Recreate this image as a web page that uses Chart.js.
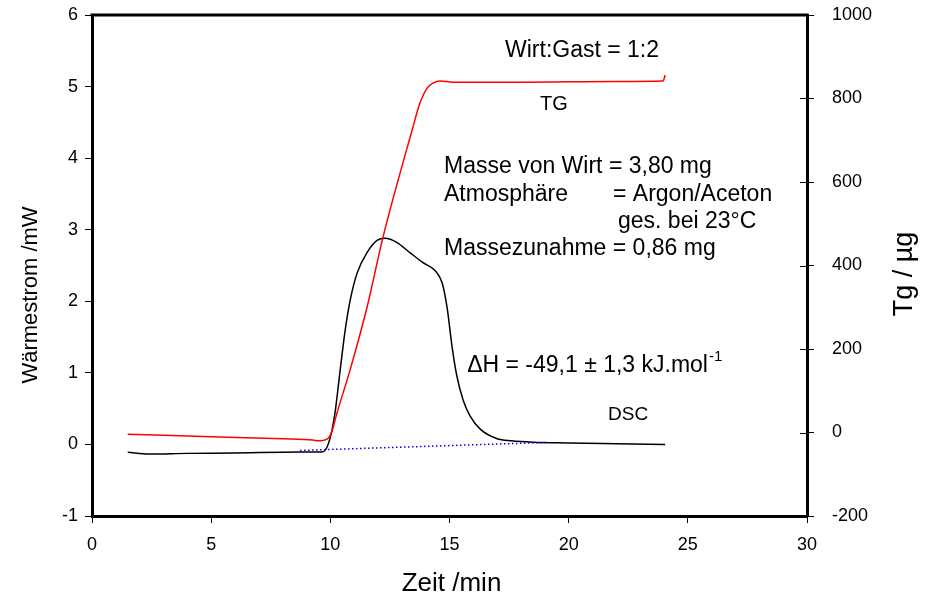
<!DOCTYPE html>
<html>
<head>
<meta charset="utf-8">
<script src="https://cdn.jsdelivr.net/npm/chart.js"></script>
<style>
    html, body { margin: 0; padding: 0; background: #fff; }
    #wrap { width: 926px; height: 604px; }
</style>
</head>
<body>
<div id="wrap"><canvas id="dscChart" width="926" height="604"></canvas></div>
<script>
    // DSC curve (Wärmestrom, mW) against time (min)
    const dscTime = [1.5, 2.4, 4, 5.9, 8.73, 9.65, 9.86, 10.07, 10.2, 10.41, 10.62, 10.83, 11.12, 11.54, 11.96, 12.3, 12.8, 13.34, 13.89, 14.39, 14.69, 14.9, 15.11, 15.3, 15.57, 15.86, 16.3, 17.0, 17.6, 18.5, 20, 22, 24.05];
    const dscValue = [-0.11, -0.135, -0.125, -0.12, -0.107, -0.105, -0.04, 0.2, 0.45, 1.03, 1.59, 2.01, 2.39, 2.68, 2.85, 2.88, 2.82, 2.68, 2.54, 2.43, 2.26, 1.91, 1.36, 0.97, 0.62, 0.40, 0.21, 0.08, 0.05, 0.03, 0.02, 0.01, 0.0];

    // TG curve (µg) against time (min), right axis
    const tgTime = [1.5, 5, 8, 9.27, 9.5, 9.86, 10.05, 10.28, 10.83, 11.54, 12.21, 13.43, 13.76, 14.06, 14.31, 14.6, 15.15, 16, 18, 20, 22, 23.96, 24.05];
    const tgValue = [-4, -10, -15, -18, -20, -16, 0, 47, 150, 300, 468, 724, 789, 825, 837, 842, 839, 839, 839, 840, 841, 842, 856];

    // dotted baseline under the DSC peak
    const baseTime = [8.73, 19.1];
    const baseValue = [-0.084, 0.028];

    const xTicks = [0, 5, 10, 15, 20, 25, 30];
    const leftTicks = [-1, 0, 1, 2, 3, 4, 5, 6];
    const rightTicks = [-200, 0, 200, 400, 600, 800, 1000];

    const FONT = '"Liberation Sans", Arial, sans-serif';

    function pts(xs, ys) {
        return xs.map((x, i) => ({ x: x, y: ys[i] }));
    }

    // annotation text, placed in data units (x in min, y on left axis)
    const notes = [
        { text: 'Wirt:Gast = 1:2', x: 17.33, y: 5.5, size: 23 },
        { text: 'TG', x: 18.8, y: 4.75, size: 20 },
        { text: 'Masse von Wirt = 3,80 mg', x: 14.77, y: 3.88, size: 23 },
        { text: 'Atmosphäre', x: 14.77, y: 3.49, size: 23 },
        { text: '= Argon/Aceton', x: 21.86, y: 3.49, size: 23 },
        { text: 'ges. bei 23°C', x: 22.07, y: 3.11, size: 23 },
        { text: 'Massezunahme = 0,86 mg', x: 14.77, y: 2.74, size: 23 },
        { text: 'DSC', x: 21.65, y: 0.42, size: 19 }
    ];

    const textPlugin = {
        id: 'texts',
        afterDraw(chart) {
            const ctx = chart.ctx;
            const sx = chart.scales.x, sy = chart.scales.y, sy1 = chart.scales.y1;
            const area = chart.chartArea;
            ctx.save();

            // top frame line
            ctx.strokeStyle = '#000';
            ctx.lineWidth = 3;
            ctx.beginPath();
            ctx.moveTo(area.left - 1.5, area.top);
            ctx.lineTo(area.right + 1.5, area.top);
            ctx.stroke();

            // right axis ticks also reach a little inside
            ctx.lineWidth = 1;
            rightTicks.forEach(v => {
                const py = Math.round(sy1.getPixelForValue(v)) + 0.5;
                ctx.beginPath();
                ctx.moveTo(area.right - 7, py);
                ctx.lineTo(area.right, py);
                ctx.stroke();
            });

            ctx.fillStyle = '#000';
            ctx.textBaseline = 'middle';
            ctx.textAlign = 'left';

            notes.forEach(n => {
                ctx.font = n.size + 'px ' + FONT;
                ctx.fillText(n.text, sx.getPixelForValue(n.x), sy.getPixelForValue(n.y));
            });

            // delta H with superscript
            let hx = sx.getPixelForValue(15.74), hy = sy.getPixelForValue(1.1);
            ctx.font = '23px ' + FONT;
            const main = '\u0394H = -49,1 \u00B1 1,3 kJ.mol';
            ctx.fillText(main, hx, hy);
            const w = ctx.measureText(main).width;
            ctx.font = '15px ' + FONT;
            ctx.fillText('-1', hx + w + 1, hy - 9);

            // axis titles
            ctx.font = '26px ' + FONT;
            ctx.textAlign = 'center';
            ctx.fillText('Zeit /min', (area.left + area.right) / 2 + 2, 584);

            ctx.font = '22px ' + FONT;
            ctx.save();
            ctx.translate(31, 295);
            ctx.rotate(-Math.PI / 2);
            ctx.fillText('Wärmestrom /mW', 0, 0);
            ctx.restore();

            ctx.font = '27px ' + FONT;
            ctx.save();
            ctx.translate(905, 274);
            ctx.rotate(-Math.PI / 2);
            ctx.fillText('Tg / \u00B5g', 0, 0);
            ctx.restore();

            ctx.restore();
        }
    };

    function tickGrid() {
        return { display: true, drawOnChartArea: false, drawTicks: true, tickLength: 7, color: '#000', lineWidth: 1 };
    }

    function noPad(s) {
        s.paddingTop = 0;
        s.paddingBottom = 0;
        s.paddingLeft = 0;
        s.paddingRight = 0;
    }

    const ctx = document.getElementById('dscChart').getContext('2d');
    new Chart(ctx, {
        type: 'line',
        data: {
            datasets: [
                {
                    label: 'TG',
                    data: pts(tgTime, tgValue),
                    yAxisID: 'y1',
                    borderColor: '#ff0000',
                    borderWidth: 1.5,
                    pointRadius: 0,
                    cubicInterpolationMode: 'monotone',
                    fill: false
                },
                {
                    label: 'Basislinie',
                    data: pts(baseTime, baseValue),
                    yAxisID: 'y',
                    borderColor: '#0000ff',
                    borderWidth: 1.5,
                    borderDash: [1.5, 2.5],
                    pointRadius: 0,
                    fill: false
                },
                {
                    label: 'DSC',
                    data: pts(dscTime, dscValue),
                    yAxisID: 'y',
                    borderColor: '#000000',
                    borderWidth: 1.5,
                    pointRadius: 0,
                    cubicInterpolationMode: 'monotone',
                    fill: false
                }
            ]
        },
        options: {
            responsive: false,
            animation: false,
            devicePixelRatio: 1,
            layout: { padding: { top: 15, left: 0, right: 0, bottom: 0 } },
            plugins: {
                legend: { display: false },
                tooltip: { enabled: false }
            },
            scales: {
                x: {
                    type: 'linear',
                    position: 'bottom',
                    min: 0,
                    max: 30,
                    afterBuildTicks: s => { s.ticks = xTicks.map(v => ({ value: v })); },
                    afterFit: s => { s.height = 88; noPad(s); },
                    grid: tickGrid(),
                    border: { display: true, color: '#000', width: 3 },
                    ticks: { color: '#000', font: { family: FONT, size: 18 }, padding: 11, maxRotation: 0 }
                },
                y: {
                    type: 'linear',
                    position: 'left',
                    min: -1,
                    max: 6,
                    afterBuildTicks: s => { s.ticks = leftTicks.map(v => ({ value: v })); },
                    afterFit: s => { s.width = 92; noPad(s); },
                    grid: tickGrid(),
                    border: { display: true, color: '#000', width: 3 },
                    ticks: { color: '#000', font: { family: FONT, size: 18 }, padding: 7 }
                },
                y1: {
                    type: 'linear',
                    position: 'right',
                    min: -200,
                    max: 1000,
                    afterBuildTicks: s => { s.ticks = rightTicks.map(v => ({ value: v })); },
                    afterFit: s => { s.width = 119; noPad(s); },
                    grid: tickGrid(),
                    border: { display: true, color: '#000', width: 3 },
                    ticks: { color: '#000', font: { family: FONT, size: 18 }, padding: 18, callback: v => String(v) }
                }
            }
        },
        plugins: [textPlugin]
    });
</script>
</body>
</html>
